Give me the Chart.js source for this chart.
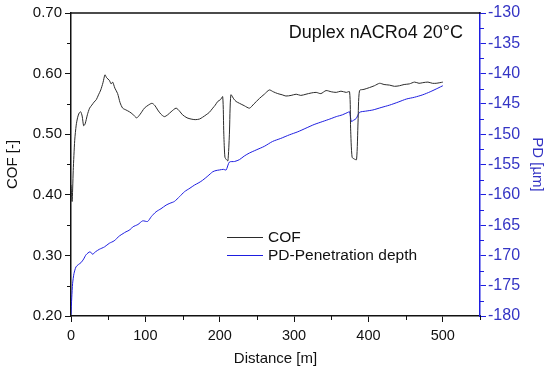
<!DOCTYPE html>
<html>
<head>
<meta charset="utf-8">
<script src="https://cdn.jsdelivr.net/npm/chart.js@4"></script>
<style>
  html, body { margin: 0; padding: 0; background: #fff; }
  #wrap { width: 550px; height: 372px; }
</style>
</head>
<body>
<div id="wrap"><canvas id="grafico"></canvas></div>
<script>
// COF curve
const cofDist = [0, 1.5, 3, 5, 7, 9, 11, 13, 15, 17, 19, 22, 25, 28, 31, 34, 37, 40, 43, 45.7, 48, 51.5, 54, 56, 59, 62.7, 66, 69.5, 74, 78.5, 83, 88.3, 93, 98.7, 104, 109, 113, 116.6, 121, 125.6, 130, 134.6, 141.3, 146, 150, 156, 161.5, 167, 172.7, 177, 181.7, 186, 190.6, 194, 197.3, 201, 204, 205.5, 207, 209, 211, 213, 215, 219, 222, 226.5, 233, 240, 246, 253.4, 260, 266.7, 272, 278, 284, 289, 296, 302.8, 309, 316, 323, 329.7, 336, 343, 350, 356.7, 363, 370, 374.6, 376, 378, 381, 384, 386, 388, 394, 401.5, 408, 415, 421, 428.4, 435, 441.8, 448, 455, 462, 468, 473, 480, 486, 491, 496, 500];
const cofVal  = [0.416, 0.389, 0.44, 0.49, 0.515, 0.528, 0.535, 0.537, 0.530, 0.514, 0.517, 0.532, 0.543, 0.548, 0.553, 0.557, 0.565, 0.573, 0.585, 0.598, 0.593, 0.589, 0.583, 0.586, 0.576, 0.567, 0.552, 0.543, 0.540, 0.537, 0.533, 0.527, 0.533, 0.543, 0.548, 0.551, 0.547, 0.540, 0.533, 0.529, 0.532, 0.537, 0.543, 0.538, 0.532, 0.527, 0.525, 0.524, 0.525, 0.528, 0.532, 0.536, 0.543, 0.548, 0.554, 0.557, 0.562, 0.50, 0.462, 0.458, 0.456, 0.50, 0.565, 0.558, 0.554, 0.551, 0.547, 0.543, 0.550, 0.559, 0.566, 0.573, 0.570, 0.567, 0.565, 0.563, 0.564, 0.566, 0.564, 0.566, 0.568, 0.569, 0.567, 0.572, 0.570, 0.569, 0.571, 0.569, 0.570, 0.510, 0.462, 0.459, 0.458, 0.52, 0.572, 0.574, 0.577, 0.580, 0.584, 0.582, 0.581, 0.579, 0.580, 0.582, 0.583, 0.586, 0.584, 0.585, 0.586, 0.584, 0.584, 0.585, 0.586];

// PD-Penetration depth curve
const pdDist = [0, 1, 2.2, 4, 6.7, 10, 13.4, 17, 20.2, 25.6, 29, 33, 38, 45, 51.5, 58, 65, 70, 74, 79, 83, 90, 96.4, 103, 108, 114.4, 121, 127.9, 133, 139, 146, 152.5, 160, 166, 172, 177, 184, 190.6, 195, 199.6, 205, 208.6, 213, 220, 226.5, 233, 240, 249, 260, 271, 282, 293.8, 305, 316, 327, 338.6, 348, 356.7, 365, 372.3, 374.6, 377, 380, 383.6, 388, 396, 406, 417, 428.4, 440, 450.9, 462, 473, 483, 493.4, 500];
const pdVal  = [-179.8, -177.0, -174.6, -173.0, -171.9, -171.5, -171.2, -170.6, -169.9, -169.4, -169.8, -169.4, -169.0, -168.6, -168.0, -167.6, -166.8, -166.4, -166.1, -165.8, -165.3, -164.9, -164.3, -164.4, -163.6, -162.8, -162.3, -161.7, -161.4, -161.1, -160.3, -159.5, -158.9, -158.4, -158.0, -157.6, -156.9, -156.2, -156.0, -155.9, -155.8, -155.9, -154.6, -154.5, -154.2, -153.6, -153.1, -152.6, -152.0, -151.2, -150.7, -150.1, -149.6, -149.0, -148.4, -147.9, -147.5, -147.1, -146.8, -146.4, -146.3, -147.9, -147.7, -147.4, -146.4, -146.2, -146.0, -145.6, -145.2, -144.7, -144.2, -143.9, -143.5, -143.0, -142.4, -142.0];

const xTicks = [0, 100, 200, 300, 400, 500];
const cofTicks = [0.20, 0.30, 0.40, 0.50, 0.60, 0.70];
const pdTicks = [-180, -175, -170, -165, -160, -155, -150, -145, -140, -135, -130];

const negro = "#2b2b2b";
const azul = "#1e1ee0";
const azulTexto = "#3434c4";
const fuente = "'Liberation Sans', Arial, sans-serif";

function puntos(xs, ys) {
  return xs.map((x, i) => ({ x: x, y: ys[i] }));
}

// marco superior, marcas menores, titulo y leyenda
const extras = {
  id: "extras",
  afterDraw(chart) {
    const c = chart.ctx;
    const a = chart.chartArea;
    const sx = chart.scales.x, sy = chart.scales.y, sy1 = chart.scales.y1;
    c.save();
    c.fillStyle = "#111";
    c.fillRect(a.left - 0.75, a.top - 0.75, a.right - a.left + 1.5, 1.5);

    // marcas menores entre las principales
    for (let i = 0; i < xTicks.length; i++) {
      const px = Math.round(sx.getPixelForValue(xTicks[i] + 50));
      c.fillRect(px, a.bottom, 1, 4);
    }
    for (let i = 0; i < cofTicks.length - 1; i++) {
      const py = Math.round(sy.getPixelForValue(cofTicks[i] + 0.05));
      c.fillRect(a.left - 4, py, 4, 1);
    }
    c.fillStyle = azul;
    for (let i = 0; i < pdTicks.length - 1; i++) {
      const py = Math.round(sy1.getPixelForValue(pdTicks[i] + 2.5));
      c.fillRect(a.right, py, 4, 1);
    }

    c.fillStyle = "#111";
    c.font = "18px " + fuente;
    c.textAlign = "right";
    c.textBaseline = "middle";
    c.fillText("Duplex nACRo4 20°C", 463, 33);

    c.font = "15.5px " + fuente;
    c.textAlign = "left";
    const filas = [["COF", negro, 237], ["PD-Penetration depth", azul, 255]];
    filas.forEach(f => {
      c.fillStyle = f[1];
      c.fillRect(227, f[2], 36, 1);
      c.fillStyle = "#111";
      c.fillText(f[0], 268, f[2] + 0.5);
    });
    c.restore();
  }
};

new Chart(document.getElementById("grafico"), {
  type: "line",
  data: {
    datasets: [
      {
        label: "COF",
        data: puntos(cofDist, cofVal),
        borderColor: negro,
        borderWidth: 1,
        pointRadius: 0,
        yAxisID: "y",
        tension: 0.25
      },
      {
        label: "PD-Penetration depth",
        data: puntos(pdDist, pdVal),
        borderColor: azul,
        borderWidth: 1,
        pointRadius: 0,
        yAxisID: "y1",
        tension: 0.25
      }
    ]
  },
  options: {
    responsive: true,
    maintainAspectRatio: false,
    animation: false,
    layout: { padding: { top: 13, left: 0, right: 0, bottom: 0 } },
    plugins: { legend: { display: false }, tooltip: { enabled: false } },
    scales: {
      x: {
        type: "linear",
        min: 0,
        max: 550,
        afterBuildTicks: s => { s.ticks = xTicks.map(v => ({ value: v })); },
        afterFit: s => { s.height = 56; },
        border: { color: "#111", width: 1.5 },
        grid: { drawOnChartArea: false, tickLength: 6, color: "#111" },
        ticks: { autoSkip: false, maxRotation: 0, padding: 5, color: "#111", font: { family: fuente, size: 14.5 } },
        title: { display: true, text: "Distance [m]", color: "#111", padding: { top: 5 }, font: { family: fuente, size: 15 } }
      },
      y: {
        position: "left",
        min: 0.20,
        max: 0.70,
        afterBuildTicks: s => { s.ticks = cofTicks.map(v => ({ value: v })); },
        afterFit: s => { s.width = 71; },
        border: { color: "#111", width: 1.5 },
        grid: { drawOnChartArea: false, tickLength: 6, color: "#111" },
        ticks: { autoSkip: false, padding: 3, color: "#111", font: { family: fuente, size: 15 }, callback: v => Number(v).toFixed(2) },
        title: { display: true, text: "COF [-]", color: "#111", padding: { bottom: 5 }, font: { family: fuente, size: 15 } }
      },
      y1: {
        position: "right",
        min: -180,
        max: -130,
        afterBuildTicks: s => { s.ticks = pdTicks.map(v => ({ value: v })); },
        afterFit: s => { s.width = 70; },
        border: { color: azul, width: 1.5 },
        grid: { drawOnChartArea: false, tickLength: 6, color: azul },
        ticks: { autoSkip: false, padding: 2, color: azulTexto, font: { family: fuente, size: 16 } },
        title: { display: true, text: "PD [µm]", color: azulTexto, padding: { top: 4 }, font: { family: fuente, size: 15 } }
      }
    }
  },
  plugins: [extras]
});
</script>
</body>
</html>
